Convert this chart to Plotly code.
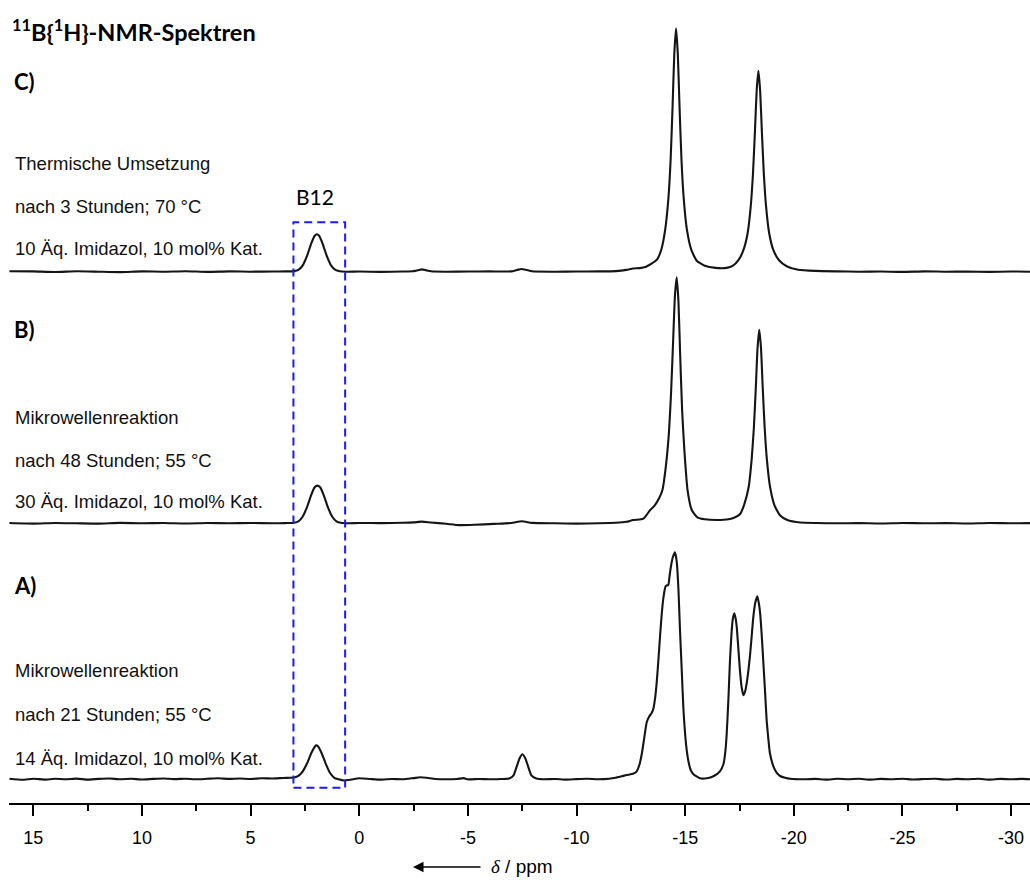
import plotly.graph_objects as go

# ---------------- data ----------------
# chemical shift axis ticks
tick_vals = [15, 10, 5, 0, -5, -10, -15, -20, -25, -30]
tick_text = ["15", "10", "5", "0", "-5", "-10", "-15", "-20", "-25", "-30"]
minor_vals = [12.5, 7.5, 2.5, -2.5, -7.5, -12.5, -17.5, -22.5, -27.5]

# Spectrum C) thermal conversion (ppm, intensity)
c_ppm = [16.1, 15.0, 14.0, 13.0, 12.0, 11.0, 10.0, 9.0, 8.0, 7.0, 6.0, 5.0, 4.0, 3.4, 3.0,
         2.8, 2.6, 2.4, 2.2, 2.05, 1.95, 1.85, 1.7, 1.5, 1.3, 1.1, 0.9, 0.6, 0.0, -1.0,
         -2.0, -2.45, -2.7, -2.88, -3.05, -3.3, -4.0, -5.0, -6.0, -7.0, -7.25, -7.48, -7.7,
         -7.95, -9.0, -10.0, -11.0, -11.8, -12.3, -12.6, -12.9, -13.2, -13.45, -13.7, -13.9,
         -14.08, -14.23, -14.33, -14.42, -14.5, -14.58, -14.66, -14.74, -14.83, -14.93,
         -15.08, -15.28, -15.53, -15.9, -16.4, -16.9, -17.2, -17.45, -17.67, -17.87, -18.02,
         -18.12, -18.21, -18.29, -18.37, -18.45, -18.53, -18.62, -18.72, -18.87, -19.07,
         -19.32, -19.67, -20.2, -21.0, -22.0, -23.0, -24.0, -25.0, -26.0, -27.0, -28.0,
         -29.0, -30.0, -30.9]
c_int = [0.5, 0.3, -0.3, 0.4, 0.0, -0.4, 0.3, 0.0, 0.5, -0.2, 0.3, 0.0, 0.2, 0.3, 0.6,
         1.8, 6.3, 16.0, 28.8, 36.0, 37.5, 36.0, 28.8, 16.0, 6.3, 1.8, 0.5, 0.0, 0.2, -0.2,
         0.2, 0.4, 1.5, 2.3, 1.6, 0.4, 0.0, 0.2, 0.3, 0.3, 1.7, 2.7, 1.7,
         0.4, 0.0, 0.2, 0.3, 0.6, 1.8, 3.2, 3.6, 5.0, 8.0, 12.0, 22.0,
         42.0, 74.0, 112.0, 165.0, 218.0, 243.4, 218.0, 165.0, 112.0, 74.0,
         42.0, 22.0, 11.0, 6.0, 3.8, 3.8, 6.0, 11.5, 21.0, 38.0, 66.0,
         98.0, 140.0, 181.0, 201.0, 181.0, 140.0, 98.0, 66.0, 38.0, 21.0,
         11.5, 5.5, 2.0, 0.8, 0.3, 0.0, 0.2, -0.2, 0.3, 0.0, 0.2,
         -0.2, 0.2, 0.0]

# Spectrum B) microwave, 48 h
b_ppm = [16.1, 15.0, 14.0, 13.0, 12.0, 11.0, 10.0, 9.0, 8.0, 7.0, 6.0, 5.0, 4.0, 3.4, 3.0,
         2.8, 2.6, 2.4, 2.2, 2.05, 1.93, 1.8, 1.65, 1.45, 1.25, 1.05, 0.85, 0.5, 0.0, -1.0,
         -2.0, -2.5, -2.88, -3.3, -4.0, -4.6, -5.3, -6.2, -7.0, -7.48, -7.95, -9.0, -10.0,
         -11.0, -11.8, -12.3, -12.6, -12.9, -13.1, -13.38, -13.6, -13.8, -13.95, -14.1,
         -14.25, -14.35, -14.45, -14.53, -14.61, -14.69, -14.77, -14.86, -14.96, -15.11,
         -15.31, -15.56, -15.9, -16.45, -17.0, -17.3, -17.52, -17.72, -17.92, -18.06,
         -18.16, -18.25, -18.33, -18.41, -18.49, -18.57, -18.66, -18.76, -18.91, -19.11,
         -19.36, -19.7, -20.3, -21.0, -22.0, -23.0, -24.0, -25.0, -26.0, -27.0, -28.0,
         -29.0, -30.0, -30.9]
b_int = [0.3, -0.3, 0.3, 0.0, -0.3, 0.4, 0.0, 0.3, -0.2, 0.3, 0.0, 0.3, 0.0, 0.2, 0.6,
         2.0, 6.8, 16.5, 29.0, 36.0, 37.7, 36.0, 29.0, 16.5, 6.8, 2.0, 0.5, 0.0, 0.3, 0.2,
         0.5, 0.9, 1.7, 0.8, -0.5, -1.8, -1.5, -0.6, 0.3, 2.0, 0.4, 0.0, -0.3,
         0.0, 0.5, 1.5, 3.3, 3.8, 5.0, 13.0, 18.0, 25.0, 33.0, 55.0,
         90.0, 130.0, 185.0, 228.0, 246.0, 222.0, 168.0, 113.0, 74.0, 33.0,
         13.0, 6.0, 4.0, 3.3, 4.0, 6.0, 9.0, 19.0, 36.0, 64.0,
         95.0, 135.0, 175.0, 193.5, 175.0, 135.0, 95.0, 64.0, 36.0, 18.0,
         8.0, 3.3, 0.8, 0.3, 0.0, 0.2, -0.2, 0.3, 0.0, 0.2, -0.2,
         0.3, 0.0, 0.2]

# Spectrum A) microwave, 21 h
a_ppm = [16.1, 15.5, 15.0, 14.5, 14.0, 13.5, 13.0, 12.5, 12.0, 11.5, 11.0, 10.5, 10.0, 9.5,
         9.0, 8.5, 8.0, 7.5, 7.0, 6.5, 6.0, 5.5, 5.0, 4.5, 4.0, 3.5, 3.2, 3.0, 2.8, 2.6, 2.4,
         2.2, 2.05, 1.99, 1.9, 1.75, 1.55, 1.35, 1.15, 0.95, 0.7, 0.4, 0.0, -0.5, -1.0, -1.5,
         -2.0, -2.5, -2.8, -3.1, -3.5, -4.0, -4.5, -4.8, -5.0, -5.5, -6.0, -6.5, -6.9, -7.1,
         -7.25, -7.38, -7.51, -7.64, -7.77, -7.92, -8.15, -8.5, -9.0, -9.5, -10.0, -10.5,
         -11.0, -11.5, -11.8, -12.08, -12.31, -12.6, -12.77, -12.9, -13.0, -13.12, -13.23,
         -13.35, -13.45, -13.53, -13.62, -13.69, -13.77, -13.84, -13.92, -14.0, -14.1,
         -14.17, -14.22, -14.28, -14.33, -14.43, -14.53, -14.61, -14.69, -14.76, -14.84,
         -14.92, -15.04, -15.15, -15.26, -15.38, -15.68, -16.0, -16.3, -16.6, -16.76,
         -16.85, -16.91, -16.99, -17.06, -17.13, -17.19, -17.26, -17.32, -17.37, -17.45,
         -17.52, -17.6, -17.68, -17.76, -17.83, -17.91, -17.98, -18.06, -18.14, -18.23,
         -18.32, -18.39, -18.45, -18.52, -18.6, -18.68, -18.75, -18.83, -18.9, -19.06,
         -19.2, -19.37, -19.6, -19.83, -20.5, -21.0, -21.5, -22.0, -22.5, -23.0, -23.5,
         -24.0, -24.5, -25.0, -25.5, -26.0, -26.5, -27.0, -27.5, -28.0, -28.5, -29.0,
         -29.5, -30.0, -30.5, -30.9]
a_int = [0.5, -0.5, 0.6, -0.3, 0.5, 0.0, 0.7, -0.3, 0.4, 0.8, 0.0, 0.5, -0.2, 0.4,
         0.8, 0.2, 0.6, 0.0, 0.5, 1.0, 0.4, 0.8, 0.3, 1.0, 0.8, 1.3, 1.5, 1.8, 3.5, 8.0, 16.0,
         26.5, 32.5, 34.0, 33.0, 27.0, 16.0, 6.5, 1.5, 0.0, -1.2, -0.5, 1.0, 0.3, -0.3, 0.3,
         0.0, 1.2, 2.0, 1.5, 0.3, 0.0, 0.3, 1.2, 0.0, 0.3, 0.0, 0.3, 0.8, 4.0,
         13.0, 21.0, 25.0, 21.0, 13.0, 4.0, 0.8, 0.0, 0.3, -0.3, 0.2, 0.5,
         0.0, 0.5, 1.5, 3.0, 4.3, 5.5, 8.0, 15.0, 25.0, 42.0, 57.0,
         63.0, 66.0, 70.0, 82.0, 97.0, 120.0, 142.0, 165.0, 182.0, 193.0,
         194.0, 194.0, 203.0, 211.0, 222.0, 227.0, 218.0, 190.0, 150.0, 110.0,
         70.0, 35.0, 18.0, 9.0, 5.0, 1.0, 1.0, 3.0, 8.0, 15.0,
         28.0, 45.0, 80.0, 118.0, 145.0, 160.0, 166.0, 161.0, 153.0, 130.0,
         109.0, 92.0, 84.0, 88.0, 96.0, 109.0, 123.0, 143.0, 163.0, 177.0,
         183.0, 176.0, 166.0, 145.0, 116.0, 86.0, 59.0, 40.0, 26.0, 13.0,
         7.0, 3.3, 1.5, 0.5, 0.0, 0.4, -0.3, 0.5, 0.0, 0.5, -0.3,
         0.4, 0.0, 0.5, -0.2, 0.3, 0.6, -0.2, 0.4, 0.0, 0.5, -0.3,
         0.4, 0.0, 0.4, 0.0]

spectrum_names = ["C", "B", "A"]
spectrum_labels = ["C)", "B)", "A)"]
spectrum_notes = [
    ["Thermische Umsetzung", "nach 3 Stunden; 70 °C", "10 Äq. Imidazol, 10 mol% Kat."],
    ["Mikrowellenreaktion", "nach 48 Stunden; 55 °C", "30 Äq. Imidazol, 10 mol% Kat."],
    ["Mikrowellenreaktion", "nach 21 Stunden; 55 °C", "14 Äq. Imidazol, 10 mol% Kat."],
]
highlight_label = "B12"
highlight_ppm = [3.03, 0.65]

# ---------------- layout constants ----------------
W, H = 1030, 880
PL, PT, PW, PH = 9, 0, 1021, 803          # plot area in page pixels
X_RANGE = [16.12, -30.87]
stack_offset = {"C": 531.3, "B": 279.7, "A": 23.7}   # baseline heights (plot units = px)
label_y = {"C": 81.7, "B": 329, "A": 585}
note_y = {"C": [163.3, 206.7, 248.3], "B": [417.3, 460, 501.7], "A": [670, 714, 758]}


def px(xp):
    return (xp - PL) / PW


def py(yp):
    return (PT + PH - yp) / PH


SANS = "Liberation Sans, Arial, sans-serif"
CAL = "Lato, Open Sans, sans-serif"

fig = go.Figure()
series = {"C": (c_ppm, c_int), "B": (b_ppm, b_int), "A": (a_ppm, a_int)}
for name in spectrum_names:
    xs, ys = series[name]
    off = stack_offset[name]
    fig.add_trace(go.Scatter(
        x=xs, y=[v + off for v in ys], mode="lines",
        line=dict(color="#151515", width=2.1, shape="spline", smoothing=0.5),
        hoverinfo="skip", showlegend=False))

# highlight box around the B12 signal
fig.add_shape(type="rect", xref="x", yref="y",
              x0=highlight_ppm[0], x1=highlight_ppm[1], y0=PH - 787.7, y1=PH - 222.3,
              line=dict(color="#1a1aff", width=2, dash="8px,5px"), fillcolor="rgba(0,0,0,0)")

ann = []
ann.append(dict(text="<b><sup>11</sup>B{<sup>1</sup>H}-NMR-Spektren</b>", x=px(10), y=py(30),
                xanchor="left", yanchor="middle", font=dict(family=CAL, size=23.5, color="black")))
for i, name in enumerate(spectrum_names):
    ann.append(dict(text="<b>%s</b>" % spectrum_labels[i], x=px(12), y=py(label_y[name]),
                    xanchor="left", yanchor="middle", font=dict(family=CAL, size=22, color="black")))
    for j, t in enumerate(spectrum_notes[i]):
        ann.append(dict(text=t, x=px(13), y=py(note_y[name][j]), xanchor="left", yanchor="middle",
                        font=dict(family=SANS, size=18.5, color="#111")))
ann.append(dict(text=highlight_label, x=px(315), y=py(197), xanchor="center", yanchor="middle",
                font=dict(family=CAL, size=21, color="black")))
# axis title with arrow
ann.append(dict(text="", x=px(413), y=py(867), ax=69, ay=0, showarrow=True, arrowhead=2,
                arrowsize=1.5, arrowwidth=1.4, arrowcolor="black", xanchor="center"))
ann.append(dict(text="<span style='font-family:Liberation Serif;font-style:italic'>δ</span> / ppm",
                x=px(489), y=py(866), xanchor="left", yanchor="middle",
                font=dict(family=SANS, size=19, color="black")))
for a in ann:
    a.setdefault("showarrow", False)
    a["xref"] = "paper"
    a["yref"] = "paper"

fig.update_layout(
    width=W, height=H, autosize=False,
    margin=dict(l=PL, r=W - PL - PW, t=PT, b=H - PT - PH, pad=0),
    paper_bgcolor="white", plot_bgcolor="white",
    annotations=ann, showlegend=False,
    xaxis=dict(range=X_RANGE, showline=True, linecolor="black", linewidth=2,
               ticks="outside", ticklen=11, tickwidth=2, tickcolor="black",
               tickmode="array", tickvals=tick_vals, ticktext=tick_text,
               tickfont=dict(family=SANS, size=18, color="black"), ticklabelstandoff=6,
               showgrid=False, zeroline=False, fixedrange=True,
               minor=dict(tickmode="array", tickvals=minor_vals, ticks="outside", ticklen=6,
                          tickwidth=2, tickcolor="black", showgrid=False)),
    yaxis=dict(range=[0, PH], visible=False, fixedrange=True, showgrid=False, zeroline=False),
)

fig.write_html("out.html")
